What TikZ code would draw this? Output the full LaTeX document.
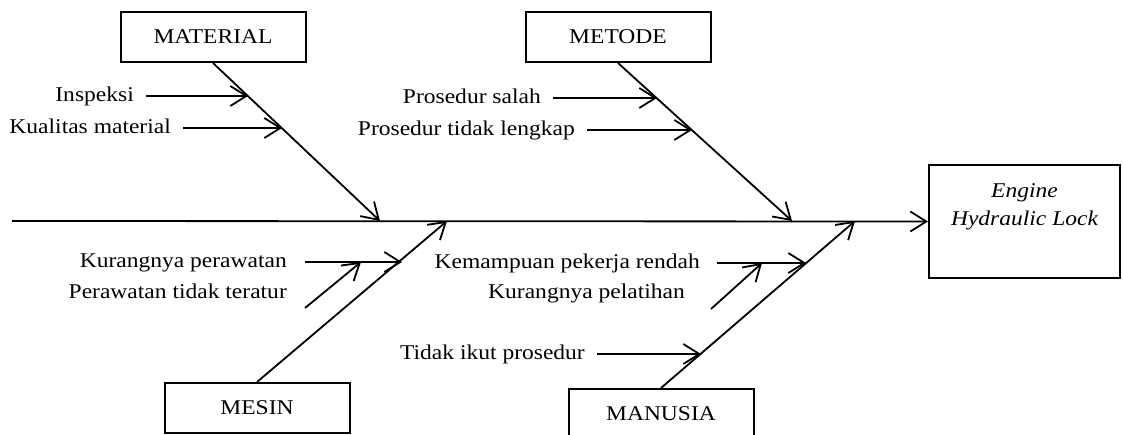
\documentclass[tikz,border=0pt]{standalone}
\usepackage{fontspec}
\setmainfont{Liberation Serif}[FakeStretch=1.12]
\usetikzlibrary{arrows.meta, positioning, calc}

\begin{document}
\begin{tikzpicture}[x=1pt, y=-1pt, font=\fontsize{21}{25}\selectfont,
  kotak/.style={draw, line width=2pt, minimum width=185pt, minimum height=50pt, inner sep=0pt},
  bone/.style={line width=1.8pt, -{Straight Barb[length=16pt, width=20pt]}},
  cause/.style={anchor=east, inner xsep=12pt, inner ysep=4pt, text height=14pt, text depth=4pt}]
\useasboundingbox (0,0) rectangle (1123,434);

% kategori
\node[kotak] (material) at (213,37) {MATERIAL};
\node[kotak] (metode) at (618,37) {METODE};
\node[kotak] (mesin) at (257,408) {MESIN};
\node[kotak] (manusia) at (661,414) {MANUSIA};

% akibat
\node[draw, line width=2pt, minimum width=191pt, minimum height=113pt] (akibat) at (1024.5,221.5) {};
\node[font=\fontsize{21}{28}\selectfont\itshape, align=center, anchor=north]
  (akibatlbl) at ([yshift=-16pt]akibat.north) {Engine\\Hydraulic Lock};

% tulang utama
\coordinate (ekor) at (12,221);
\draw[bone] (ekor) -- (akibat.west);

% tulang kategori
\coordinate (ujungMat) at (380,221);
\coordinate (ujungMet) at (792,221);
\coordinate (ujungMes) at (447,221);
\coordinate (ujungMan) at (855,221);
\draw[bone] (material.south) -- (ujungMat);
\draw[bone] (metode.south) -- (ujungMet);
\draw[bone] (mesin.north) -- (ujungMes);
\draw[bone] (manusia.north) -- (ujungMan);

% material
\node[cause] (inspeksi) at (146,96) {Inspeksi};
\node[cause] (kualitas) at (183,128) {Kualitas material};
\coordinate (mat1) at (248,96);
\coordinate (mat2) at (282,128);
\draw[bone] (inspeksi.east) -- (mat1);
\draw[bone] (kualitas.east) -- (mat2);

% metode
\node[cause] (salah) at (553,98) {Prosedur salah};
\node[cause] (lengkap) at (587,130) {Prosedur tidak lengkap};
\coordinate (met1) at (657,98);
\coordinate (met2) at (692,130);
\draw[bone] (salah.east) -- (met1);
\draw[bone] (lengkap.east) -- (met2);

% mesin
\node[cause, inner xsep=18pt] (rawat) at (305,262) {Kurangnya perawatan};
\node[cause] (teratur) at (299,293) {Perawatan tidak teratur};
\coordinate (mes1) at (402,262);
\coordinate (mes2) at (361,262);
\coordinate (mesA) at (305,308);
\draw[bone] (rawat.east) -- (mes1);
\draw[bone] (mesA) -- (mes2);

% manusia
\node[cause, inner xsep=17pt] (mampu) at (717,263) {Kemampuan pekerja rendah};
\node[cause] (latih) at (697,293) {Kurangnya pelatihan};
\node[cause] (ikut) at (597,354) {Tidak ikut prosedur};
\coordinate (man1) at (806,263);
\coordinate (man2) at (762,263);
\coordinate (manA) at (711,309);
\coordinate (man3) at (701,354);
\draw[bone] (mampu.east) -- (man1);
\draw[bone] (manA) -- (man2);
\draw[bone] (ikut.east) -- (man3);
\end{tikzpicture}
\end{document}
